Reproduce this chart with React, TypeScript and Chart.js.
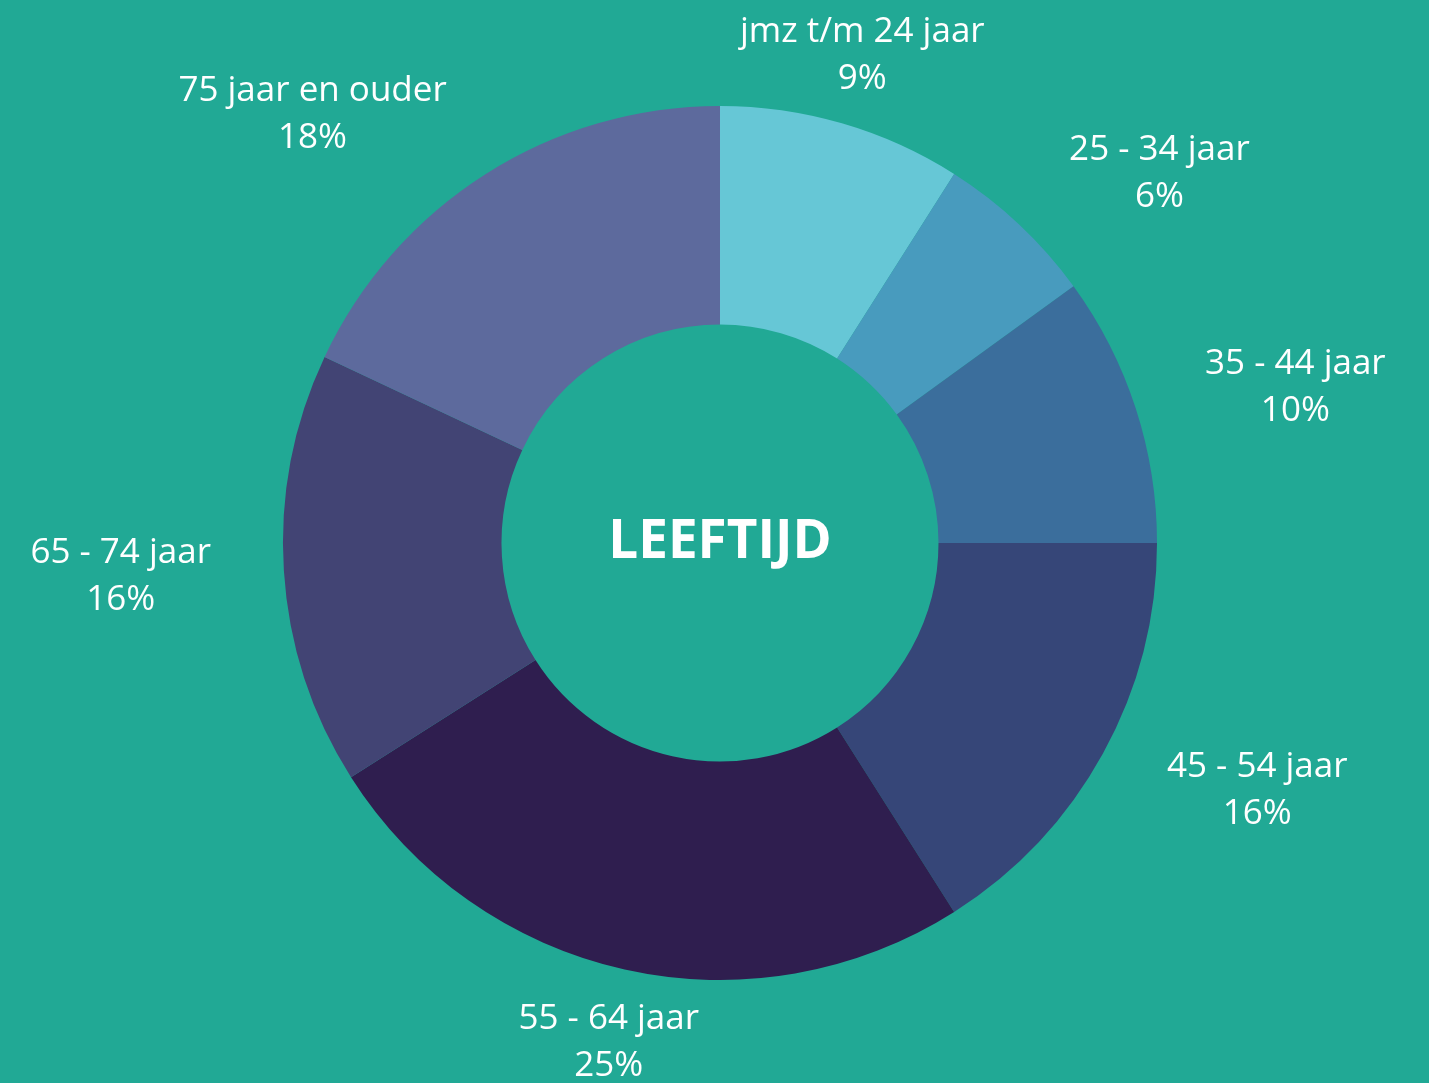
import React, { useEffect, useRef } from "react";
import { Chart, registerables } from "chart.js";

Chart.register(...registerables);

const categories = [
  "jmz t/m 24 jaar",
  "25 - 34 jaar",
  "35 - 44 jaar",
  "45 - 54 jaar",
  "55 - 64 jaar",
  "65 - 74 jaar",
  "75 jaar en ouder",
];
const values = [9, 6, 10, 16, 25, 16, 18];
const colors = ["#66C7D6", "#489BBE", "#3B6E9C", "#364678", "#2F1E4F", "#424474", "#5D6A9D"];
const centerTitle = "LEEFTIJD";
const bg = "#21A995";

const labelPlugin = {
  id: "outLabels",
  afterDatasetsDraw(chart: any) {
    const ctx = chart.ctx;
    const meta = chart.getDatasetMeta(0);
    const total = values.reduce((a, b) => a + b, 0);
    ctx.save();
    ctx.fillStyle = "#ffffff";
    ctx.font = "35px 'Open Sans'";
    ctx.textBaseline = "middle";
    const lh = 47;
    meta.data.forEach((arc: any, i: number) => {
      const p = arc.getProps(["x", "y", "startAngle", "endAngle", "outerRadius"], true);
      const mid = (p.startAngle + p.endAngle) / 2;
      const r = p.outerRadius + 73;
      const px = p.x + Math.cos(mid) * r;
      const py = p.y + Math.sin(mid) * r + 2;
      const lines = [categories[i], Math.round((values[i] / total) * 100) + "%"];
      const w = Math.max(...lines.map((l) => ctx.measureText(l).width));
      const c = Math.cos(mid);
      let cx = px;
      if (c > 0.5) cx = px + w / 2;
      else if (c < -0.5) cx = px - w / 2;
      ctx.textAlign = "center";
      ctx.fillText(lines[0], cx, py - lh / 2);
      ctx.fillText(lines[1], cx, py + lh / 2);
    });
    const a0 = meta.data[0];
    ctx.font = "bold 53px 'Open Sans'";
    ctx.textAlign = "center";
    ctx.fillText(centerTitle, a0.x, a0.y);
    ctx.restore();
  },
};

export default function App() {
  const ref = useRef<HTMLCanvasElement>(null);
  useEffect(() => {
    document.body.style.margin = "0";
    document.body.style.background = bg;
    const chart = new Chart(ref.current!, {
      type: "doughnut",
      data: {
        labels: categories,
        datasets: [
          {
            data: values,
            backgroundColor: colors,
            borderWidth: 0,
          },
        ],
      },
      options: {
        responsive: false,
        animation: false,
        radius: 437,
        cutout: "50%",
        layout: { padding: { left: 11, top: 3, right: 0, bottom: 0 } },
        plugins: { legend: { display: false }, tooltip: { enabled: false } },
      },
      plugins: [labelPlugin],
    });
    return () => chart.destroy();
  }, []);
  return (
    <div style={{ width: 1429, height: 1083, background: bg }}>
      <canvas ref={ref} width={1429} height={1083} style={{ display: "block" }} />
    </div>
  );
}
